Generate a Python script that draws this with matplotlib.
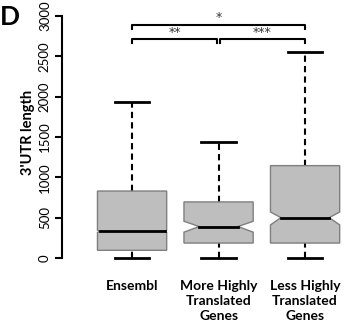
import matplotlib
matplotlib.use("Agg")
import matplotlib.pyplot as plt

# box statistics (3'UTR length)
groups = ["Ensembl", "More Highly\nTranslated\nGenes", "Less Highly\nTranslated\nGenes"]
whis_lo = [0, 0, 0]
q1 = [95, 185, 185]
med = [330, 390, 500]
q3 = [830, 695, 1145]
whis_hi = [1930, 1440, 2555]
ci_lo = [315, 320, 410]
ci_hi = [345, 455, 570]

# significance brackets: (left group, right group, level, label)
brackets = [(1, 2, 2715, "**"), (2, 3, 2715, "***"), (1, 3, 2890, "*")]

BOX_FILL = "#bebebe"
BOX_EDGE = "#7f7f7f"
W = 0.8                      # box width
NOTCH = [0.03, 0.22, 0.15]   # notch indent per box, fraction of width

plt.rcParams["font.family"] = ["Lato", "DejaVu Sans"]
fig = plt.figure(figsize=(3.44, 3.26), dpi=100)
ax = fig.add_axes([62 / 344, 1 - 262 / 326, 1 - 62 / 344, 260 / 326])

for i in range(len(groups)):
    x = i + 1
    l, r = x - W / 2, x + W / 2
    nl, nr = l + W * NOTCH[i], r - W * NOTCH[i]
    xs = [l, r, r, nr, r, r, l, l, nl, l, l]
    ys = [q1[i], q1[i], ci_lo[i], med[i], ci_hi[i], q3[i], q3[i],
          ci_hi[i], med[i], ci_lo[i], q1[i]]
    ax.fill(xs, ys, facecolor=BOX_FILL, edgecolor=BOX_EDGE, lw=1.0, zorder=2)
    ax.plot([nl, nr], [med[i], med[i]], color="black", lw=2, zorder=3)
    # whiskers + caps
    ax.plot([x, x], [q3[i], whis_hi[i]], color="black", lw=1.5, ls=(0, (3, 2)), zorder=1)
    ax.plot([x, x], [whis_lo[i], q1[i]], color="black", lw=1.5, ls=(0, (3, 2)), zorder=1)
    ax.plot([x - W / 4, x + W / 4], [whis_hi[i]] * 2, color="black", lw=2)
    ax.plot([x - W / 4, x + W / 4], [whis_lo[i]] * 2, color="black", lw=2)

for a, b, lev, lab in brackets:
    xa = a + 0.02 if a > 1 else a
    xb = b - 0.02 if (b == 2) else b
    ax.plot([xa, xa, xb, xb], [lev - 50, lev, lev, lev - 50], color="black", lw=1.5)
    ax.text((a + b) / 2, lev + 5, lab, ha="center", va="bottom", fontsize=9,
            color="#333333", family="DejaVu Sans")

ax.set_xlim(0.19, 3.45)
ax.set_ylim(-50, 3174)
ax.set_yticks([0, 500, 1000, 1500, 2000, 2500, 3000])
ax.set_yticklabels(["0", "500", "1000", "1500", "2000", "2500", "3000"],
                   rotation=90, va="center", fontsize=9.5)
ax.set_xticks([1, 2, 3])
labels = ax.set_xticklabels(groups, fontsize=10, fontweight="bold")
plt.setp(labels, linespacing=1.3)
ax.tick_params(axis="x", length=0, pad=13)
ax.tick_params(axis="y", length=5, width=1.5, pad=3)
for s in ["top", "right", "bottom"]:
    ax.spines[s].set_visible(False)
ax.spines["left"].set_bounds(0, 3000)
ax.spines["left"].set_linewidth(1.5)
ax.set_ylabel("3'UTR length", fontsize=10.5, fontweight="bold", labelpad=3)

fig.text(0.0, 0.985, "D", fontsize=19, fontweight="bold", va="top", ha="left")

fig.savefig("out.png", dpi=100)
